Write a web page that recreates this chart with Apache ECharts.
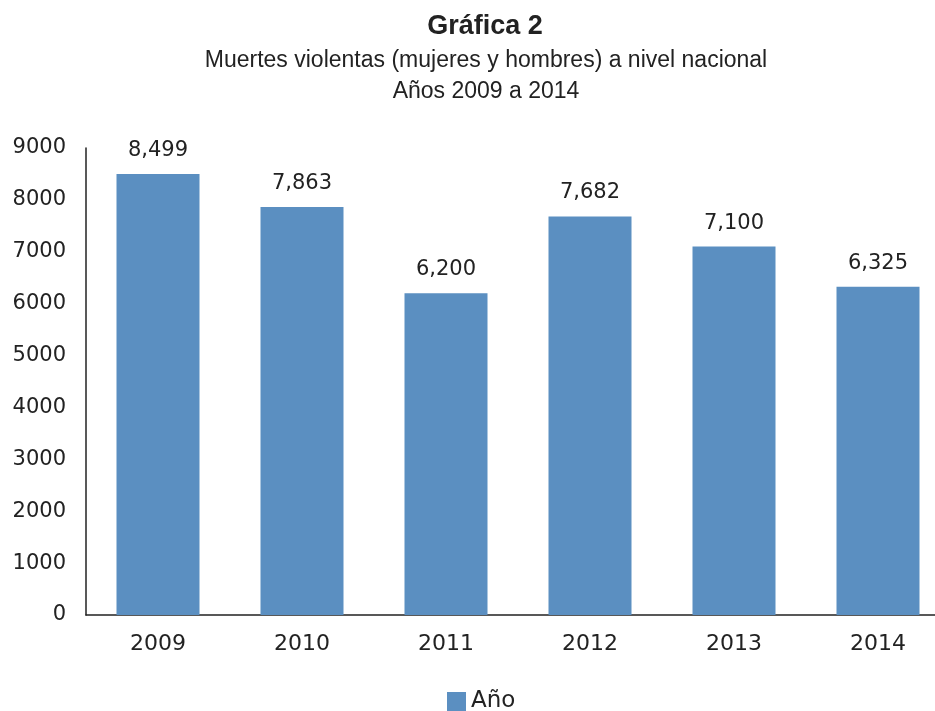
<!DOCTYPE html>
<html>
<head>
<meta charset="utf-8">
<script src="https://cdn.jsdelivr.net/npm/echarts@6/dist/echarts.min.js"></script>
<style>
  html, body { margin: 0; padding: 0; background: #fff; overflow: hidden; }
  #chart { width: 950px; height: 711px; }
</style>
</head>
<body>
<div id="chart"></div>
<script>
// data
var years = ['2009', '2010', '2011', '2012', '2013', '2014']
var muertes = [8499, 7863, 6200, 7682, 7100, 6325]
var yTicks = [0, 1000, 2000, 3000, 4000, 5000, 6000, 7000, 8000, 9000]

// the plot runs past the right edge of the page, like in the original
var chart = echarts.init(document.getElementById('chart'))
var labelFont = 'DejaVu Sans'

chart.setOption({
  animation: false,
  title: [
    {
      text: 'Gráfica 2',
      left: 480, top: 8, textAlign: 'center',
      textStyle: { fontFamily: 'Liberation Sans', fontWeight: 'bold', fontSize: 27, color: '#222' }
    },
    {
      text: 'Muertes violentas (mujeres y hombres) a nivel nacional\nAños 2009 a 2014',
      left: 481, top: 40, textAlign: 'center',
      textStyle: { fontFamily: 'Liberation Sans', fontWeight: 'normal', fontSize: 23, lineHeight: 31, color: '#222' }
    }
  ],
  grid: { left: 86, right: 0, top: 148, bottom: 96, containLabel: false },
  legend: {
    top: 685, left: 442,
    itemWidth: 19, itemHeight: 19, itemGap: 14,
    icon: 'rect',
    textStyle: { fontFamily: labelFont, fontSize: 23, color: '#222' },
    data: ['Año']
  },
  xAxis: {
    type: 'category',
    data: years,
    axisLine: { lineStyle: { color: '#222', width: 1.5 } },
    axisTick: { show: false },
    axisLabel: { fontFamily: labelFont, fontSize: 22, color: '#222', margin: 18 }
  },
  yAxis: {
    type: 'value',
    min: yTicks[0], max: yTicks[yTicks.length - 1], interval: 1000,
    axisLine: { show: true, lineStyle: { color: '#222', width: 1.5 } },
    axisTick: { show: false },
    splitLine: { show: false },
    axisLabel: {
      fontFamily: labelFont, fontSize: 21, color: '#222', margin: 20,
      formatter: function (v) { return String(v) }
    }
  },
  series: [{
    name: 'Año',
    type: 'bar',
    data: muertes,
    barWidth: 83,
    itemStyle: { color: '#5b8fc1' },
    label: {
      show: true, position: 'top', distance: 13,
      fontFamily: labelFont, fontSize: 21, color: '#222',
      formatter: function (p) { return p.value.toLocaleString('en-US') }
    }
  }]
})
</script>
</body>
</html>
